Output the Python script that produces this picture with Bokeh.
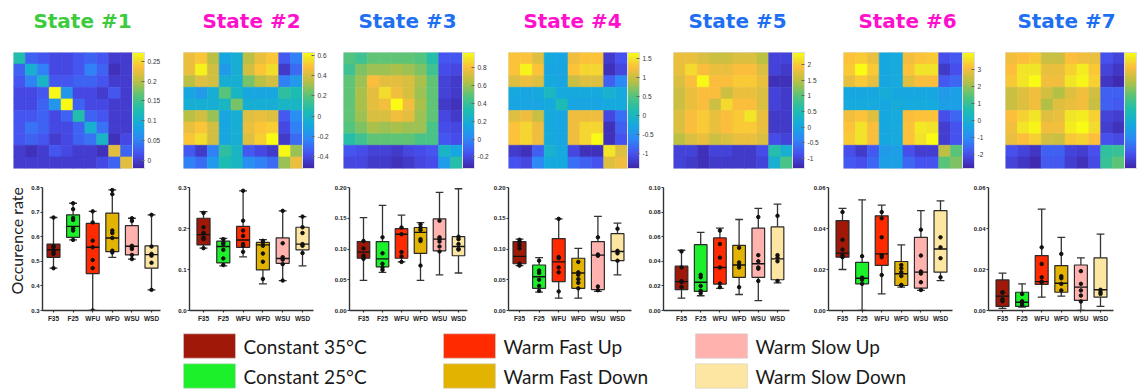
import numpy as np
from bokeh.plotting import figure
from bokeh.layouts import row, column
from bokeh.models import (ColumnDataSource, LinearColorMapper, ColorBar, FixedTicker,
                          PrintfTickFormatter, Range1d)
from bokeh.transform import transform
from bokeh.core.properties import value
from bokeh.embed import file_html
from bokeh.resources import INLINE

# ---------------- data ----------------
categories = ["F35", "F25", "WFU", "WFD", "WSU", "WSD"]
legend_labels = ["Constant 35°C", "Constant 25°C", "Warm Fast Up",
                 "Warm Fast Down", "Warm Slow Up", "Warm Slow Down"]
box_colors = ["#a01808", "#1cf02a", "#ff2a00", "#e2b300", "#ffb2ae", "#fde6a2"]
state_titles = ["State #1", "State #2", "State #3", "State #4", "State #5", "State #6", "State #7"]
title_colors = ["#3ccb3c", "#ff10cc", "#1f6ff2", "#ff10cc", "#1f6ff2", "#ff10cc", "#1f6ff2"]

heat1 = [
    [0.13, 0.03, 0.02, 0.01, 0.01, 0.02, 0.03, 0.02, 0.00, 0.00],
    [0.03, 0.10, 0.05, 0.01, 0.01, 0.02, 0.05, 0.03, -0.01, 0.00],
    [0.02, 0.05, 0.11, 0.02, 0.02, 0.03, 0.03, 0.02, 0.00, 0.00],
    [0.01, 0.01, 0.02, 0.27, 0.07, 0.01, 0.01, 0.00, 0.02, 0.00],
    [0.01, 0.01, 0.03, 0.07, 0.27, 0.03, 0.01, 0.01, 0.00, 0.00],
    [0.02, 0.02, 0.03, 0.01, 0.03, 0.13, 0.03, 0.02, 0.00, 0.00],
    [0.02, 0.04, 0.03, 0.01, 0.01, 0.03, 0.10, 0.04, 0.00, 0.00],
    [0.02, 0.03, 0.02, 0.00, 0.01, 0.03, 0.04, 0.11, -0.01, 0.01],
    [0.00, -0.01, 0.00, 0.02, 0.01, 0.00, 0.00, -0.01, 0.22, 0.03],
    [0.00, 0.00, 0.00, 0.00, 0.00, 0.00, 0.00, 0.01, 0.03, 0.22],
]
heat2 = [
    [0.45, 0.50, 0.35, -0.10, -0.05, 0.35, 0.45, 0.50, -0.35, -0.25],
    [0.45, 0.60, 0.40, -0.15, -0.05, 0.40, 0.50, 0.55, -0.45, -0.30],
    [0.35, 0.42, 0.40, -0.05, -0.05, 0.25, 0.35, 0.40, -0.25, -0.15],
    [-0.10, -0.15, -0.05, 0.20, 0.00, -0.10, -0.10, -0.10, 0.10, 0.05],
    [-0.05, -0.05, -0.05, 0.00, 0.25, -0.05, -0.05, -0.05, 0.00, 0.00],
    [0.35, 0.40, 0.30, -0.10, -0.05, 0.42, 0.45, 0.42, -0.35, -0.20],
    [0.45, 0.50, 0.40, -0.10, -0.05, 0.45, 0.50, 0.52, -0.40, -0.25],
    [0.50, 0.55, 0.40, -0.10, -0.05, 0.42, 0.52, 0.63, -0.45, -0.30],
    [-0.35, -0.45, -0.25, 0.10, 0.00, -0.35, -0.40, -0.45, 0.62, 0.30],
    [-0.25, -0.30, -0.15, 0.05, 0.00, -0.20, -0.25, -0.30, 0.30, 0.45],
]
heat3 = [
    [0.48, 0.42, 0.50, 0.50, 0.50, 0.50, 0.48, 0.35, -0.15, -0.15],
    [0.42, 0.55, 0.60, 0.60, 0.62, 0.60, 0.55, 0.42, -0.18, -0.20],
    [0.50, 0.60, 0.80, 0.75, 0.75, 0.72, 0.62, 0.50, -0.22, -0.25],
    [0.50, 0.62, 0.75, 0.88, 0.78, 0.72, 0.60, 0.50, -0.22, -0.25],
    [0.50, 0.62, 0.75, 0.78, 0.97, 0.78, 0.62, 0.50, -0.25, -0.28],
    [0.50, 0.60, 0.72, 0.72, 0.78, 0.75, 0.60, 0.50, -0.20, -0.25],
    [0.48, 0.55, 0.62, 0.60, 0.62, 0.60, 0.60, 0.45, -0.18, -0.20],
    [0.35, 0.42, 0.50, 0.50, 0.50, 0.50, 0.45, 0.45, -0.15, -0.18],
    [-0.15, -0.18, -0.22, -0.22, -0.25, -0.20, -0.18, -0.15, 0.25, 0.15],
    [-0.20, -0.20, -0.25, -0.25, -0.28, -0.25, -0.20, -0.18, 0.10, 0.35],
]
heat4 = [
    [1.30, 1.30, 1.10, -0.25, -0.30, 1.20, 1.30, 1.30, -1.20, -1.00],
    [1.30, 1.60, 1.30, -0.30, -0.30, 1.30, 1.40, 1.40, -1.30, -1.10],
    [1.10, 1.20, 1.10, -0.25, -0.30, 1.00, 1.10, 1.10, -0.90, -0.60],
    [-0.25, -0.30, -0.25, 0.00, -0.25, -0.25, -0.25, -0.25, -0.10, -0.25],
    [-0.30, -0.30, -0.30, -0.25, 0.10, -0.30, -0.30, -0.30, -0.25, -0.25],
    [1.10, 1.20, 1.00, -0.25, -0.30, 1.20, 1.20, 1.20, -1.10, -0.80],
    [1.30, 1.40, 1.20, -0.25, -0.30, 1.20, 1.40, 1.40, -1.30, -0.90],
    [1.30, 1.40, 1.20, -0.25, -0.30, 1.20, 1.40, 1.65, -1.30, -1.00],
    [-1.20, -1.30, -0.90, -0.10, -0.25, -1.10, -1.30, -1.30, 1.50, 1.10],
    [-1.00, -1.10, -0.60, -0.25, -0.25, -0.80, -0.90, -1.00, 1.10, 1.20],
]
heat5 = [
    [1.80, 1.80, 1.70, 1.60, 1.60, 1.70, 1.70, 1.50, -1.00, -1.00],
    [1.80, 2.10, 1.90, 1.80, 1.80, 1.90, 1.90, 1.70, -1.00, -1.10],
    [1.70, 1.90, 2.35, 1.90, 1.90, 2.00, 2.00, 1.80, -1.20, -1.20],
    [1.60, 1.80, 1.90, 1.90, 1.60, 1.80, 1.80, 1.70, -1.00, -1.10],
    [1.60, 1.80, 1.90, 1.60, 2.10, 1.90, 1.90, 1.70, -1.00, -1.10],
    [1.70, 1.90, 2.00, 1.80, 1.90, 2.00, 2.20, 1.80, -1.10, -1.10],
    [1.70, 1.90, 2.00, 1.80, 1.90, 2.00, 2.00, 1.80, -1.10, -1.10],
    [1.50, 1.70, 1.80, 1.60, 1.70, 1.80, 1.80, 1.70, -0.90, -1.00],
    [-1.00, -1.00, -1.20, -1.00, -1.00, -1.10, -1.10, -0.90, 0.60, 0.20],
    [-1.00, -1.10, -1.20, -1.10, -1.10, -1.10, -1.10, -1.00, 0.20, 0.90],
]
heat6 = [
    [3.20, 3.30, 2.90, -0.30, -0.20, 3.00, 3.20, 3.30, -2.00, -1.80],
    [3.30, 4.00, 3.30, -0.30, -0.20, 3.20, 3.60, 3.60, -2.40, -2.00],
    [2.90, 3.30, 2.90, -0.30, -0.20, 2.80, 3.10, 3.10, -1.80, -1.60],
    [-0.30, -0.30, -0.30, -0.10, -0.30, -0.30, -0.30, -0.30, -0.60, -0.50],
    [-0.20, -0.20, -0.20, -0.30, -0.10, -0.20, -0.20, -0.20, -0.50, -0.50],
    [3.00, 3.20, 2.80, -0.30, -0.20, 3.10, 3.20, 3.20, -2.00, -1.60],
    [3.20, 3.60, 3.10, -0.30, -0.20, 3.20, 3.70, 3.60, -2.30, -1.90],
    [3.30, 3.60, 3.10, -0.30, -0.20, 3.20, 3.60, 4.00, -2.30, -1.90],
    [-2.00, -2.40, -1.80, -0.60, -0.50, -2.00, -2.30, -2.30, 2.40, 1.50],
    [-1.80, -2.00, -1.60, -0.50, -0.50, -1.60, -1.90, -1.90, 1.50, 1.80],
]
heat7 = [
    [2.20, 2.30, 2.40, 1.80, 1.80, 2.30, 2.20, 2.10, -1.80, -2.00],
    [2.30, 2.70, 2.70, 2.10, 2.10, 2.50, 2.80, 2.40, -2.00, -2.20],
    [2.40, 2.70, 3.00, 2.20, 2.20, 2.70, 2.90, 2.50, -2.20, -2.40],
    [1.80, 2.00, 2.20, 1.90, 1.60, 2.00, 2.20, 1.90, -1.60, -1.60],
    [1.80, 2.00, 2.20, 1.60, 2.00, 2.10, 2.20, 1.80, -1.60, -1.70],
    [2.30, 2.50, 2.70, 2.00, 2.10, 2.70, 2.80, 2.50, -2.00, -2.10],
    [2.20, 2.70, 2.90, 2.20, 2.20, 2.80, 3.00, 2.60, -2.10, -2.30],
    [2.10, 2.30, 2.50, 1.90, 1.80, 2.40, 2.50, 2.30, -1.80, -1.90],
    [-1.80, -2.00, -2.20, -1.60, -1.60, -2.00, -2.10, -1.80, 0.50, 0.60],
    [-2.00, -2.20, -2.40, -1.70, -1.70, -2.10, -2.30, -1.90, 0.60, 1.00],
]
heat_low = [-0.02, -0.52, -0.33, -1.40, -1.33, -2.80, -2.50]
heat_high = [0.272, 0.63, 0.97, 1.66, 2.39, 4.00, 3.00]
cbar_ticks = [
    [0, 0.05, 0.1, 0.15, 0.2, 0.25],
    [-0.4, -0.2, 0, 0.2, 0.4, 0.6],
    [-0.2, 0, 0.2, 0.4, 0.6, 0.8],
    [-1, -0.5, 0, 0.5, 1, 1.5],
    [-1, -0.5, 0, 0.5, 1, 1.5, 2],
    [-2, -1, 0, 1, 2, 3],
    [],
]

# box statistics per state (lower whisker, Q1, median, Q3, upper whisker) and points
s1_lower = [0.472, 0.587, 0.300, 0.516, 0.509, 0.384]
s1_q1 = [0.516, 0.597, 0.450, 0.539, 0.526, 0.472]
s1_median = [0.547, 0.642, 0.557, 0.595, 0.561, 0.527]
s1_q3 = [0.570, 0.689, 0.654, 0.696, 0.645, 0.563]
s1_upper = [0.678, 0.736, 0.703, 0.790, 0.675, 0.689]
s1_points = [[0.678, 0.562, 0.558, 0.545, 0.535, 0.530, 0.472],
             [0.736, 0.712, 0.676, 0.668, 0.634, 0.625, 0.587],
             [0.703, 0.658, 0.584, 0.557, 0.505, 0.472, 0.300],
             [0.790, 0.773, 0.625, 0.615, 0.595, 0.543, 0.536],
             [0.675, 0.664, 0.563, 0.556, 0.550, 0.526, 0.509],
             [0.689, 0.560, 0.530, 0.523, 0.494, 0.384]]

s2_lower = [0.152, 0.109, 0.131, 0.065, 0.073, 0.109]
s2_q1 = [0.160, 0.116, 0.154, 0.099, 0.115, 0.148]
s2_median = [0.185, 0.156, 0.172, 0.160, 0.127, 0.162]
s2_q3 = [0.225, 0.169, 0.205, 0.166, 0.177, 0.203]
s2_upper = [0.241, 0.176, 0.292, 0.173, 0.243, 0.229]
s2_points = [[0.238, 0.203, 0.189, 0.178, 0.174, 0.152],
             [0.174, 0.166, 0.162, 0.148, 0.127, 0.111],
             [0.292, 0.219, 0.195, 0.182, 0.162, 0.158, 0.143],
             [0.170, 0.166, 0.158, 0.139, 0.119, 0.077],
             [0.243, 0.164, 0.130, 0.124, 0.113, 0.073],
             [0.229, 0.203, 0.189, 0.162, 0.158, 0.140]]

s3_lower = [0.049, 0.062, 0.079, 0.049, 0.058, 0.061]
s3_q1 = [0.085, 0.071, 0.085, 0.093, 0.097, 0.089]
s3_median = [0.095, 0.084, 0.124, 0.127, 0.116, 0.104]
s3_q3 = [0.112, 0.112, 0.133, 0.135, 0.149, 0.120]
s3_upper = [0.151, 0.171, 0.155, 0.143, 0.192, 0.198]
s3_points = [[0.113, 0.101, 0.089, 0.086, 0.084],
             [0.119, 0.093, 0.076, 0.070, 0.066],
             [0.135, 0.124, 0.095, 0.088, 0.079],
             [0.140, 0.135, 0.131, 0.116, 0.113, 0.073],
             [0.146, 0.119, 0.116, 0.112, 0.104, 0.096],
             [0.120, 0.116, 0.108, 0.100, 0.099]]

s4_lower = [0.073, 0.030, 0.020, 0.020, 0.031, 0.058]
s4_q1 = [0.076, 0.036, 0.047, 0.036, 0.034, 0.081]
s4_median = [0.088, 0.055, 0.079, 0.061, 0.090, 0.096]
s4_q3 = [0.112, 0.074, 0.117, 0.085, 0.112, 0.125]
s4_upper = [0.116, 0.086, 0.149, 0.101, 0.153, 0.142]
s4_points = [[0.115, 0.111, 0.106, 0.101, 0.076, 0.073],
             [0.081, 0.065, 0.061, 0.050, 0.040, 0.032],
             [0.149, 0.087, 0.085, 0.070, 0.062, 0.031],
             [0.079, 0.062, 0.058, 0.051, 0.045, 0.036],
             [0.119, 0.091, 0.089, 0.039, 0.033],
             [0.133, 0.097, 0.093, 0.081]]

s5_lower = [0.010, 0.012, 0.018, 0.013, 0.008, 0.0225]
s5_q1 = [0.017, 0.0155, 0.0215, 0.027, 0.027, 0.025]
s5_median = [0.0235, 0.023, 0.035, 0.037, 0.038, 0.042]
s5_q3 = [0.036, 0.0535, 0.059, 0.053, 0.067, 0.068]
s5_upper = [0.049, 0.0635, 0.067, 0.074, 0.083, 0.0865]
s5_points = [[0.048, 0.035, 0.024, 0.023, 0.019],
             [0.029, 0.027, 0.020, 0.016, 0.014],
             [0.065, 0.054, 0.043, 0.035, 0.022, 0.019],
             [0.051, 0.039, 0.037, 0.035, 0.019],
             [0.076, 0.045, 0.040, 0.035, 0.034, 0.024],
             [0.077, 0.045, 0.043, 0.040, 0.024]]

s6_lower = [0.020, 0.000, 0.0081, 0.0114, 0.0098, 0.0146]
s6_q1 = [0.026, 0.013, 0.022, 0.0122, 0.0109, 0.0187]
s6_median = [0.028, 0.0157, 0.0276, 0.0179, 0.0187, 0.030]
s6_q3 = [0.0438, 0.0235, 0.0462, 0.0239, 0.0357, 0.0487]
s6_upper = [0.0498, 0.054, 0.0514, 0.032, 0.0487, 0.0535]
s6_points = [[0.048, 0.0345, 0.0297, 0.027, 0.026],
             [0.0265, 0.016, 0.0157, 0.015, 0.013],
             [0.048, 0.045, 0.0357, 0.027, 0.026, 0.0173],
             [0.0222, 0.0206, 0.0187, 0.0168, 0.0125, 0.0122],
             [0.0394, 0.0268, 0.019, 0.018, 0.0138, 0.010],
             [0.0357, 0.0308, 0.0255, 0.0162]]

s7_lower = [0.001, 0.0017, 0.0065, 0.0070, 0.000, 0.002]
s7_q1 = [0.002, 0.002, 0.0127, 0.0089, 0.0049, 0.0065]
s7_median = [0.007, 0.004, 0.0141, 0.0133, 0.0114, 0.0101]
s7_q3 = [0.0149, 0.0089, 0.0268, 0.0219, 0.0222, 0.0257]
s7_upper = [0.0182, 0.013, 0.0495, 0.0357, 0.0257, 0.0373]
s7_points = [[0.0089, 0.0087, 0.0055, 0.0045],
             [0.0081, 0.0045, 0.0038, 0.0027],
             [0.0308, 0.0227, 0.0162, 0.0141, 0.0138],
             [0.0276, 0.0167, 0.0157, 0.0130, 0.0098],
             [0.0192, 0.013, 0.0098, 0.0073, 0.0044],
             [0.0101, 0.0089, 0.0081]]

box_yrange = [(0.3, 0.8), (0.0, 0.3), (0.0, 0.2), (0.0, 0.2), (0.0, 0.1), (0.0, 0.06), (0.0, 0.06)]
box_yticks = [[0.3, 0.4, 0.5, 0.6, 0.7, 0.8], [0.0, 0.1, 0.2, 0.3],
              [0.0, 0.05, 0.1, 0.15, 0.2], [0.0, 0.05, 0.1, 0.15, 0.2],
              [0.0, 0.02, 0.04, 0.06, 0.08, 0.1], [0.0, 0.02, 0.04, 0.06],
              [0.0, 0.02, 0.04, 0.06]]
box_yfmt = ["%.1f", "%.1f", "%.2f", "%.2f", "%.2f", "%.2f", "%.2f"]

# ---------------- styling / layout constants ----------------
PARULA_ANCHORS = ["#3e26a8", "#4750ef", "#2e87f7", "#16a9df", "#1dbdb1",
                  "#54c47c", "#b6c044", "#fdbe3c", "#f1e12a", "#f9fb14"]
PARULA_POS = [0, 0.125, 0.25, 0.375, 0.5, 0.625, 0.75, 0.875, 0.94, 1.0]


def make_palette(anchors, pos, n=256):
    rgb = np.array([[int(a[i:i + 2], 16) for i in (1, 3, 5)] for a in anchors], dtype=float)
    t = np.linspace(0, 1, n)
    chans = [np.interp(t, pos, rgb[:, k]) for k in range(3)]
    return ["#%02x%02x%02x" % (int(round(r)), int(round(g)), int(round(b)))
            for r, g, b in zip(*chans)]


PARULA = make_palette(PARULA_ANCHORS, PARULA_POS)

W = 1143
TOP_BOUNDS = [0, 170, 335, 500, 665, 835, 997, 1143]
HEAT_LEFT = [13, 183, 343, 508, 673, 843, 1005]
HEAT_TOP = [49, 49, 49, 49, 49, 49, 52]
HEAT_SIZE = 119
TITLE_CX = [82, 251, 407, 572, 737, 907, 1066]

BOT_BOUNDS = [26, 165, 322, 480, 640, 800, 960, 1143]
AXIS_X = [42, 189, 349, 508, 663, 828, 988]
F35_X = [53, 203, 363, 519, 681, 842, 1002]
WSD_X = [151, 302, 458, 617, 777, 940, 1100]
AXIS_END = [160, 313, 467, 631, 789, 952, 1113]

TICK_FONT = "Liberation Sans"

# ---------------- titles row ----------------
tfig = figure(width=W, height=40, x_range=Range1d(0, W), y_range=Range1d(40, 0),
              x_axis_type=None, y_axis_type=None, output_backend="svg",
              toolbar_location=None, min_border=0, outline_line_color=None)
tfig.grid.visible = False
tsrc = ColumnDataSource(dict(x=TITLE_CX, y=[20.5] * 7, text=state_titles, color=title_colors))
tfig.text("x", "y", text="text", text_color="color", source=tsrc,
          text_font=value("DejaVu Sans"), text_font_style="bold",
          text_font_size=value("20px"), text_align="center", text_baseline="middle")

# ---------------- heatmap row ----------------
heats = [heat1, heat2, heat3, heat4, heat5, heat6, heat7]
heat_figs = []
for k, mat in enumerate(heats):
    x0, x1 = TOP_BOUNDS[k], TOP_BOUNDS[k + 1]
    left, top = HEAT_LEFT[k], HEAT_TOP[k]
    p = figure(width=x1 - x0, height=135, x_range=Range1d(0, 10), y_range=Range1d(10, 0),
               x_axis_type=None, y_axis_type=None, output_backend="svg",
               toolbar_location=None,
               min_border_left=left - x0, min_border_right=x1 - (left + HEAT_SIZE),
               min_border_top=top - 40, min_border_bottom=175 - (top + HEAT_SIZE),
               outline_line_color="#e6e6e6")
    p.grid.visible = False
    n = len(mat)
    xs, ys, vs = [], [], []
    for r in range(n):
        for c in range(n):
            xs.append(c + 0.5)
            ys.append(r + 0.5)
            vs.append(mat[r][c])
    src = ColumnDataSource(dict(x=xs, y=ys, v=vs))
    mapper = LinearColorMapper(palette=PARULA, low=heat_low[k], high=heat_high[k])
    p.rect("x", "y", 1, 1, source=src, fill_color=transform("v", mapper),
           line_color=transform("v", mapper), line_width=0.6)
    cb = ColorBar(color_mapper=mapper, ticker=FixedTicker(ticks=cbar_ticks[k]),
                  formatter=PrintfTickFormatter(format="%g"),
                  width=12, padding=0, margin=4,
                  label_standoff=3, major_tick_in=3, major_tick_out=0,
                  major_tick_line_color="#666666", bar_line_color="#dddddd",
                  major_label_text_font_size="6.5px", major_label_text_color="#333333",
                  major_label_text_font=TICK_FONT)
    p.add_layout(cb, "right")
    heat_figs.append(p)

# ---------------- boxplot row ----------------
lab = figure(width=26, height=150, x_range=Range1d(0, 26), y_range=Range1d(325, 175),
             x_axis_type=None, y_axis_type=None, output_backend="svg",
             toolbar_location=None, min_border=0, outline_line_color=None)
lab.grid.visible = False
lab.text(x=[15.5], y=[240], text=["Occurence rate"], angle=np.pi / 2,
         text_font=value("Lato"), text_font_size=value("16px"),
         text_color="#222222", text_align="center", text_baseline="middle")

box_sets = [
    (s1_lower, s1_q1, s1_median, s1_q3, s1_upper, s1_points),
    (s2_lower, s2_q1, s2_median, s2_q3, s2_upper, s2_points),
    (s3_lower, s3_q1, s3_median, s3_q3, s3_upper, s3_points),
    (s4_lower, s4_q1, s4_median, s4_q3, s4_upper, s4_points),
    (s5_lower, s5_q1, s5_median, s5_q3, s5_upper, s5_points),
    (s6_lower, s6_q1, s6_median, s6_q3, s6_upper, s6_points),
    (s7_lower, s7_q1, s7_median, s7_q3, s7_upper, s7_points),
]
box_figs = [lab]
idx = list(range(len(categories)))
for k, (lo, q1, med, q3, hi, pts) in enumerate(box_sets):
    x0, x1 = BOT_BOUNDS[k], BOT_BOUNDS[k + 1]
    s = (WSD_X[k] - F35_X[k]) / 5.0
    xr = Range1d(-(F35_X[k] - AXIS_X[k]) / s, 5 + (AXIS_END[k] - WSD_X[k]) / s)
    p = figure(width=x1 - x0, height=150, x_range=xr, y_range=Range1d(*box_yrange[k]),
               output_backend="svg", toolbar_location=None,
               min_border_left=AXIS_X[k] - x0, min_border_right=x1 - AXIS_END[k],
               min_border_top=12, min_border_bottom=15, outline_line_color=None)
    p.grid.visible = False
    src = ColumnDataSource(dict(x=idx, lo=lo, q1=q1, med=med, q3=q3, hi=hi, color=box_colors))
    # whiskers
    p.segment("x", "hi", "x", "q3", source=src, line_color="#333333", line_width=1.3)
    p.segment("x", "lo", "x", "q1", source=src, line_color="#333333", line_width=1.3)
    cap = 0.2
    cap_src = ColumnDataSource(dict(x0=[i - cap for i in idx], x1=[i + cap for i in idx], hi=hi, lo=lo))
    p.segment("x0", "hi", "x1", "hi", source=cap_src, line_color="#333333", line_width=1.3)
    p.segment("x0", "lo", "x1", "lo", source=cap_src, line_color="#333333", line_width=1.3)
    # boxes
    p.vbar(x="x", bottom="q1", top="q3", width=0.66, source=src, fill_color="color",
           line_color="#2a2a2a", line_width=1.2)
    med_src = ColumnDataSource(dict(x0=[i - 0.33 for i in idx], x1=[i + 0.33 for i in idx], m=med))
    p.segment("x0", "m", "x1", "m", source=med_src, line_color="#111111", line_width=1.4)
    # points
    px, py = [], []
    for i, arr in enumerate(pts):
        px.extend([i] * len(arr))
        py.extend(arr)
    p.scatter(px, py, size=3.5, color="#111111")
    # axes
    p.xaxis.ticker = FixedTicker(ticks=idx)
    p.xaxis.major_label_overrides = {i: c for i, c in enumerate(categories)}
    p.yaxis.ticker = FixedTicker(ticks=box_yticks[k])
    p.yaxis.formatter = PrintfTickFormatter(format=box_yfmt[k])
    for ax in (p.xaxis, p.yaxis):
        ax.axis_line_color = "#333333"
        ax.axis_line_width = 1.4
        ax.major_tick_line_color = "#333333"
        ax.major_tick_line_width = 1.2
        ax.major_tick_out = 2
        ax.major_tick_in = 0
        ax.minor_tick_line_color = None
        ax.major_label_text_font = TICK_FONT
        ax.major_label_text_font_style = "bold"
        ax.major_label_text_color = "#222222"
    p.xaxis.major_label_text_font_size = "6.5px"
    p.yaxis.major_label_text_font_size = "6px"
    p.xaxis.major_label_standoff = 2
    p.yaxis.major_label_standoff = 1
    box_figs.append(p)

# ---------------- legend row ----------------
leg = figure(width=W, height=65, x_range=Range1d(0, W), y_range=Range1d(390, 325),
             x_axis_type=None, y_axis_type=None, output_backend="svg",
             toolbar_location=None, min_border=0, outline_line_color=None)
leg.grid.visible = False
col_left = [183, 443, 695]
row_mid = [345.5, 375.5]
lx = [col_left[i // 2] + 26 for i in range(6)]
ly = [row_mid[i % 2] for i in range(6)]
tx = [col_left[i // 2] + 60 for i in range(6)]
lsrc = ColumnDataSource(dict(x=lx, y=ly, tx=tx, color=box_colors, label=legend_labels))
leg.rect("x", "y", 52, 24.4, source=lsrc, fill_color="color", line_color="#d0d0d0", line_width=0.6)
leg.text("tx", "y", text="label", source=lsrc, text_font=value("Lato"),
         text_font_size=value("19px"), text_color="#1a1a1a", text_align="left",
         text_baseline="middle")

layout = column(tfig, row(*heat_figs), row(*box_figs), leg, spacing=0)
open("out.html", "w").write(file_html(layout, INLINE))
